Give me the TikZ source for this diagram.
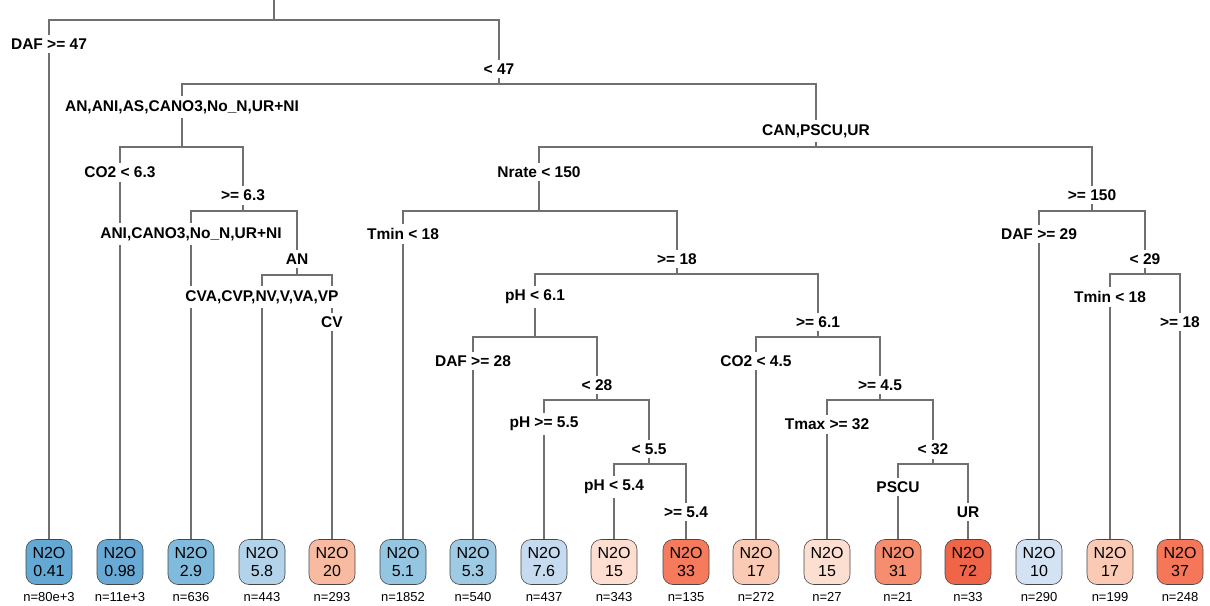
\documentclass[tikz,border=0pt]{standalone}
\usepackage{fontspec}
\setmainfont{Liberation Sans}

\definecolor{branchgray}{RGB}{112,112,112}
\definecolor{boxline}{RGB}{70,70,70}
\definecolor{cA}{RGB}{100,168,212}
\definecolor{cB}{RGB}{104,170,213}
\definecolor{cC}{RGB}{128,186,220}
\definecolor{cD}{RGB}{178,211,233}
\definecolor{cE}{RGB}{248,186,160}
\definecolor{cF}{RGB}{148,198,225}
\definecolor{cG}{RGB}{158,202,228}
\definecolor{cH}{RGB}{198,219,239}
\definecolor{cI}{RGB}{253,222,208}
\definecolor{cJ}{RGB}{246,122,92}
\definecolor{cK}{RGB}{251,202,180}
\definecolor{cL}{RGB}{253,223,209}
\definecolor{cM}{RGB}{247,141,111}
\definecolor{cN}{RGB}{240,100,72}
\definecolor{cO}{RGB}{211,227,243}
\definecolor{cP}{RGB}{251,202,180}
\definecolor{cQ}{RGB}{245,118,88}

\begin{document}
\begin{tikzpicture}[x=1pt, y=-1pt,
	branch/.style={branchgray, line width=1.2pt},
	split/.style={fill=white, inner xsep=2pt, inner ysep=4pt, font=\bfseries\fontsize{15.5}{17}\selectfont},
	leaf/.style={draw=boxline, line width=0.6pt, rounded corners=10pt, minimum width=46pt,
		minimum height=45pt, inner sep=0pt, align=center, font=\fontsize{16}{18}\selectfont},
	count/.style={inner sep=0pt, font=\fontsize{13}{14}\selectfont}]
	\useasboundingbox (0,0) rectangle (1210,605);

	\coordinate (top) at (274,0);
	\coordinate (root) at (274,20);
	\coordinate (a) at (499,84);
	\coordinate (b) at (182,147);
	\coordinate (c) at (816,147);
	\coordinate (d) at (243,211);
	\coordinate (e) at (297,275);
	\coordinate (f) at (539,211);
	\coordinate (g) at (677,274);
	\coordinate (h) at (535,337);
	\coordinate (i) at (597,400);
	\coordinate (j) at (649,464);
	\coordinate (k) at (818,337);
	\coordinate (l) at (880,400);
	\coordinate (m) at (933,464);
	\coordinate (n) at (1092,211);
	\coordinate (o) at (1145,274);

	% leaves
	\foreach \k/\x/\v/\c/\n in {1/49/0.41/cA/80e+3, 2/120/0.98/cB/11e+3, 3/191/2.9/cC/636,
			4/262/5.8/cD/443, 5/332/20/cE/293, 6/403/5.1/cF/1852, 7/473/5.3/cG/540,
			8/544/7.6/cH/437, 9/614/15/cI/343, 10/686/33/cJ/135, 11/756/17/cK/272,
			12/827/15/cL/27, 13/898/31/cM/21, 14/968/72/cN/33, 15/1039/10/cO/290,
			16/1110/17/cP/199, 17/1180/37/cQ/248}
	{
		\node [leaf, fill=\c] (leaf\k) at (\x,562) {N2O\\\v};
		\node [count] (count\k) at (\x,597) {n=\n};
	}

	\draw [branch] (top) -- (root);
	\foreach \p/\q in {root/leaf1, root/a, a/b, a/c, b/leaf2, b/d, d/leaf3, d/e,
			e/leaf4, e/leaf5, c/f, c/n, f/leaf6, f/g, g/h, g/k, h/leaf7, h/i,
			i/leaf8, i/j, j/leaf9, j/leaf10, k/leaf11, k/l, l/leaf12, l/m,
			m/leaf13, m/leaf14, n/leaf15, n/o, o/leaf16, o/leaf17}
		\draw [branch] (\p) -| (\q);

	% split labels
	\node [split] (s1) at (49,44) {DAF >= 47};
	\node [split] (s2) at (499,69) {< 47};
	\node [split] (s3) at (182,107) {AN,ANI,AS,CANO3,No\_N,UR+NI};
	\node [split] (s4) at (816,131) {CAN,PSCU,UR};
	\node [split] (s5) at (120,172) {CO2 < 6.3};
	\node [split] (s6) at (243,195) {>= 6.3};
	\node [split] (s7) at (539,172) {Nrate < 150};
	\node [split] (s8) at (1092,195) {>= 150};
	\node [split] (s9) at (191,234) {ANI,CANO3,No\_N,UR+NI};
	\node [split] (s10) at (297,259) {AN};
	\node [split] (s11) at (403,234) {Tmin < 18};
	\node [split] (s12) at (677,259) {>= 18};
	\node [split] (s13) at (1039,234) {DAF >= 29};
	\node [split] (s14) at (1145,259) {< 29};
	\node [split] (s15) at (262,297) {CVA,CVP,NV,V,VA,VP};
	\node [split] (s16) at (332,322) {CV};
	\node [split] (s17) at (535,297) {pH < 6.1};
	\node [split] (s18) at (818,322) {>= 6.1};
	\node [split] (s19) at (1110,297) {Tmin < 18};
	\node [split] (s20) at (1180,322) {>= 18};
	\node [split] (s21) at (473,361) {DAF >= 28};
	\node [split] (s22) at (597,385) {< 28};
	\node [split] (s23) at (756,361) {CO2 < 4.5};
	\node [split] (s24) at (880,385) {>= 4.5};
	\node [split] (s25) at (544,424) {pH >= 5.5};
	\node [split] (s26) at (649,449) {< 5.5};
	\node [split] (s27) at (827,424) {Tmax >= 32};
	\node [split] (s28) at (933,449) {< 32};
	\node [split] (s29) at (614,487) {pH < 5.4};
	\node [split] (s30) at (686,512) {>= 5.4};
	\node [split] (s31) at (898,487) {PSCU};
	\node [split] (s32) at (968,512) {UR};
\end{tikzpicture}
\end{document}
